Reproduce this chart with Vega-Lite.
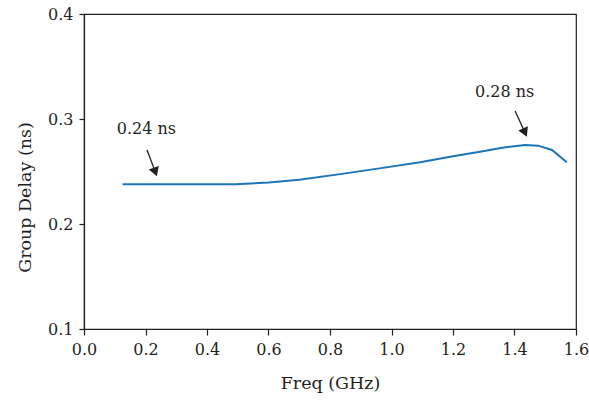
{
  "$schema": "https://vega.github.io/schema/vega-lite/v6.json",
  "width": 492,
  "height": 315,
  "autosize": {"type": "none"},
  "padding": {"left": 84, "top": 14, "right": 13, "bottom": 73},
  "background": "white",
  "config": {
    "view": {"stroke": "#231f20", "strokeWidth": 1.2},
    "font": "DejaVu Serif",
    "axis": {
      "labelFont": "DejaVu Serif",
      "titleFont": "DejaVu Serif",
      "labelFontSize": 16,
      "titleFontSize": 17.5,
      "titleFontWeight": "normal",
      "labelColor": "#231f20",
      "titleColor": "#231f20",
      "domainColor": "#231f20",
      "tickColor": "#231f20",
      "domainWidth": 1.2,
      "tickWidth": 1.2,
      "grid": false
    }
  },
  "datasets": {
    "series": [
      {"freq": 0.125, "delay": 0.2378},
      {"freq": 0.3, "delay": 0.2378},
      {"freq": 0.492, "delay": 0.2378},
      {"freq": 0.6, "delay": 0.2395},
      {"freq": 0.7, "delay": 0.2422},
      {"freq": 0.833, "delay": 0.2475},
      {"freq": 0.95, "delay": 0.2525},
      {"freq": 1.093, "delay": 0.2588},
      {"freq": 1.2, "delay": 0.2645},
      {"freq": 1.288, "delay": 0.2689},
      {"freq": 1.36, "delay": 0.2727},
      {"freq": 1.434, "delay": 0.2752},
      {"freq": 1.477, "delay": 0.2746},
      {"freq": 1.522, "delay": 0.2705},
      {"freq": 1.57, "delay": 0.2588}
    ],
    "labels": [
      {"freq": 0.203, "delay": 0.2905, "text": "0.24 ns"},
      {"freq": 1.368, "delay": 0.3257, "text": "0.28 ns"}
    ],
    "arrows": [
      {"freq": 0.205, "delay": 0.2705, "freq2": 0.232, "delay2": 0.2495, "angle": -20},
      {"freq": 1.402, "delay": 0.3076, "freq2": 1.434, "delay2": 0.2871, "angle": -24}
    ]
  },
  "layer": [
    {
      "data": {"name": "series"},
      "mark": {"type": "line", "color": "#1b75bb", "strokeWidth": 2},
      "encoding": {
        "x": {
          "field": "freq",
          "type": "quantitative",
          "title": "Freq (GHz)",
          "scale": {"domain": [0, 1.6], "nice": false, "zero": false},
          "axis": {
            "values": [0, 0.1, 0.2, 0.3, 0.4, 0.5, 0.6, 0.7, 0.8, 0.9, 1.0, 1.1, 1.2, 1.3, 1.4, 1.5, 1.6],
            "labelExpr": "round(datum.value*10) % 2 === 0 ? format(datum.value, '.1f') : ''",
            "tickSize": 6,
            "labelPadding": 6,
            "titlePadding": 17,
            "labelFlush": false
          }
        },
        "y": {
          "field": "delay",
          "type": "quantitative",
          "title": "Group Delay (ns)",
          "scale": {"domain": [0.1, 0.4], "nice": false, "zero": false},
          "axis": {
            "values": [0.1, 0.2, 0.3, 0.4],
            "format": ".1f",
            "tickSize": 5,
            "labelPadding": 6,
            "titlePadding": 13,
            "titleY": 183,
            "labelFlush": false
          }
        }
      }
    },
    {
      "data": {"name": "labels"},
      "mark": {"type": "text", "font": "DejaVu Serif", "fontSize": 16, "color": "#231f20", "align": "center", "baseline": "middle"},
      "encoding": {
        "x": {"field": "freq", "type": "quantitative"},
        "y": {"field": "delay", "type": "quantitative"},
        "text": {"field": "text"}
      }
    },
    {
      "data": {"name": "arrows"},
      "mark": {"type": "rule", "color": "#231f20", "strokeWidth": 1.3},
      "encoding": {
        "x": {"field": "freq", "type": "quantitative"},
        "y": {"field": "delay", "type": "quantitative"},
        "x2": {"field": "freq2"},
        "y2": {"field": "delay2"}
      }
    },
    {
      "data": {"name": "arrows"},
      "mark": {"type": "point", "shape": "triangle-down", "filled": true, "color": "#231f20", "size": 110, "opacity": 1},
      "encoding": {
        "x": {"field": "freq2", "type": "quantitative"},
        "y": {"field": "delay2", "type": "quantitative"},
        "angle": {"field": "angle", "type": "quantitative", "scale": null}
      }
    }
  ]
}
